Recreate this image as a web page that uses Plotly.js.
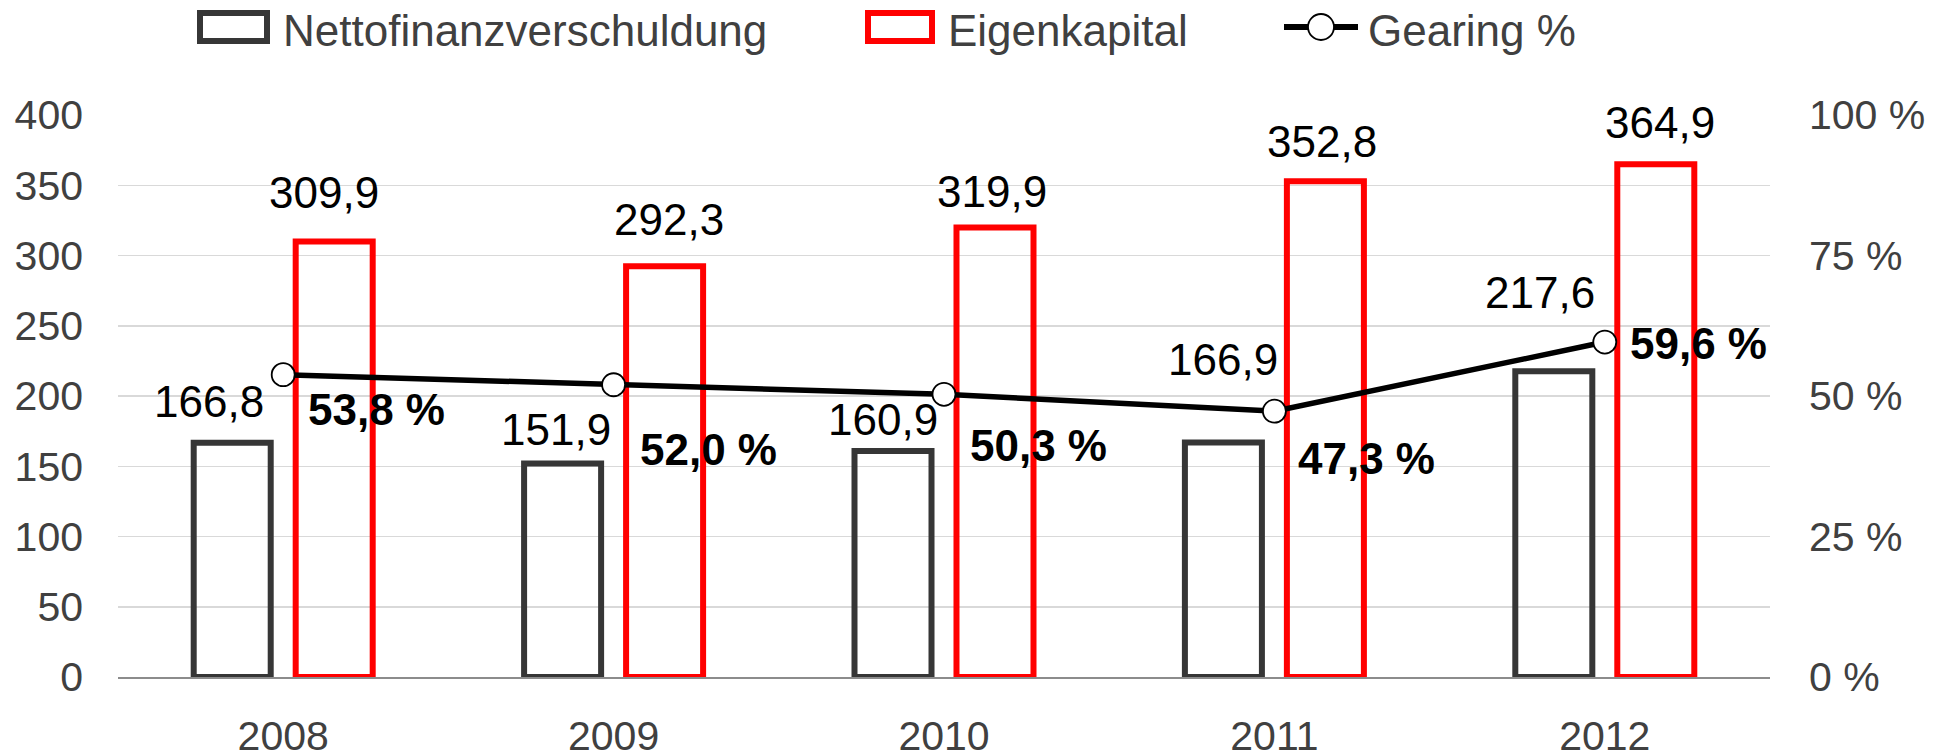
<!DOCTYPE html>
<html>
<head>
<meta charset="utf-8">
<script src="https://cdn.plot.ly/plotly-3.0.1.min.js"></script>
<style>html,body{margin:0;padding:0;background:#fff;}#chart{width:1943px;height:756px;}</style>
</head>
<body>
<div id="chart"></div>
<script>
// ---- data ----
const categories = ['2008', '2009', '2010', '2011', '2012'];
const nettofinanzverschuldung = [166.8, 151.9, 160.9, 166.9, 217.6];
const eigenkapital = [309.9, 292.3, 319.9, 352.8, 364.9];
const gearing = [53.8, 52.0, 50.3, 47.3, 59.6];
const seriesNames = ['Nettofinanzverschuldung', 'Eigenkapital', 'Gearing %'];
const leftTickVals = [0, 50, 100, 150, 200, 250, 300, 350, 400];
const rightTickVals = [0, 25, 50, 75, 100];

// ---- label placement (pixel shifts: [dx, up]) ----
const nettoLabelShift = [[-74, 41], [-58, 34], [-61, 31], [-51, 83], [-65, 79]];
const eigenLabelShift = [[41, 49], [55, 47], [48, 36], [48, 40], [55, 42]];
const gearLabelShift = [[93, -35], [95, -65], [94, -51], [92, -47], [94, -1]];

const FONT = 'Liberation Sans, Arial, sans-serif';
const fmt = v => v.toFixed(1).replace('.', ',');

const W = 1943, H = 756;
const M = {l: 118, r: 173, t: 115, b: 79};
const PW = W - M.l - M.r, PH = H - M.t - M.b;
const px = x => (x - M.l) / PW;
const py = y => (H - M.b - y) / PH;

const traces = [
  {
    type: 'bar', name: seriesNames[0], x: categories, y: nettofinanzverschuldung,
    marker: {color: 'rgba(255,255,255,0)', line: {color: '#363636', width: 6}},
    hoverinfo: 'skip'
  },
  {
    type: 'bar', name: seriesNames[1], x: categories, y: eigenkapital,
    marker: {color: 'rgba(255,255,255,0)', line: {color: '#ff0000', width: 6}},
    hoverinfo: 'skip'
  },
  {
    type: 'scatter', mode: 'lines+markers', name: seriesNames[2], x: categories, y: gearing,
    yaxis: 'y2',
    line: {color: '#000000', width: 5.5},
    marker: {size: 23, color: '#ffffff', line: {color: '#000000', width: 1.8}},
    hoverinfo: 'skip'
  }
];

const annotations = [];
categories.forEach((c, i) => {
  annotations.push({
    x: i, y: nettofinanzverschuldung[i], xref: 'x', yref: 'y',
    text: fmt(nettofinanzverschuldung[i]), showarrow: false,
    xshift: nettoLabelShift[i][0], yshift: nettoLabelShift[i][1],
    font: {family: FONT, size: 44, color: '#000000'}, xanchor: 'center', yanchor: 'middle'
  });
  annotations.push({
    x: i, y: eigenkapital[i], xref: 'x', yref: 'y',
    text: fmt(eigenkapital[i]), showarrow: false,
    xshift: eigenLabelShift[i][0], yshift: eigenLabelShift[i][1],
    font: {family: FONT, size: 44, color: '#000000'}, xanchor: 'center', yanchor: 'middle'
  });
  annotations.push({
    x: i, y: gearing[i], xref: 'x', yref: 'y2',
    text: '<b>' + fmt(gearing[i]) + ' %</b>', showarrow: false,
    xshift: gearLabelShift[i][0], yshift: gearLabelShift[i][1],
    font: {family: FONT, size: 44, color: '#000000'}, xanchor: 'center', yanchor: 'middle'
  });
});

// ---- custom legend ----
const legendText = [281, 946, 1366];
const legendTextY = 30;
seriesNames.forEach((n, i) => {
  annotations.push({
    x: px(legendText[i]), y: py(legendTextY), xref: 'paper', yref: 'paper',
    text: n, showarrow: false, xanchor: 'left', yanchor: 'middle',
    font: {family: FONT, size: 44, color: '#404040'}
  });
});

const shapes = [
  {type: 'rect', xref: 'paper', yref: 'paper', x0: px(200), x1: px(267), y0: py(13), y1: py(41),
   line: {color: '#363636', width: 6}, fillcolor: 'rgba(0,0,0,0)'},
  {type: 'rect', xref: 'paper', yref: 'paper', x0: px(868), x1: px(932), y0: py(13), y1: py(41),
   line: {color: '#ff0000', width: 6}, fillcolor: 'rgba(0,0,0,0)'},
  {type: 'line', xref: 'paper', yref: 'paper', x0: px(1284), x1: px(1358), y0: py(27), y1: py(27),
   line: {color: '#000000', width: 6}},
  {type: 'circle', xref: 'paper', yref: 'paper', x0: px(1308), x1: px(1334), y0: py(14), y1: py(40),
   line: {color: '#000000', width: 1.8}, fillcolor: '#ffffff'}
];

const layout = {
  width: W, height: H,
  margin: M,
  paper_bgcolor: '#ffffff', plot_bgcolor: '#ffffff',
  showlegend: false,
  barmode: 'group', bargap: 0.3826, bargroupgap: 0.245,
  font: {family: FONT, color: '#404040'},
  xaxis: {
    type: 'category', range: [-0.5, categories.length - 0.5],
    showgrid: false, zeroline: false,
    showline: true, linecolor: '#8c8c8c', linewidth: 1.5,
    ticks: '', tickfont: {family: FONT, size: 41, color: '#404040'},
    ticklabelstandoff: 22
  },
  yaxis: {
    range: [0, 400], tickmode: 'array', tickvals: leftTickVals,
    showgrid: true, gridcolor: '#d9d9d9', gridwidth: 1.5,
    zeroline: false, showline: false, ticks: '',
    tickfont: {family: FONT, size: 41, color: '#404040'},
    ticklabelstandoff: 34
  },
  yaxis2: {
    overlaying: 'y', side: 'right', range: [0, 100],
    tickmode: 'array', tickvals: rightTickVals, ticktext: rightTickVals.map(v => v + ' %'),
    showgrid: false, zeroline: false, showline: false, ticks: '',
    tickfont: {family: FONT, size: 41, color: '#404040'},
    ticklabelstandoff: 38
  },
  annotations: annotations,
  shapes: shapes
};

Plotly.newPlot('chart', traces, layout, {staticPlot: true, displayModeBar: false});
</script>
</body>
</html>
